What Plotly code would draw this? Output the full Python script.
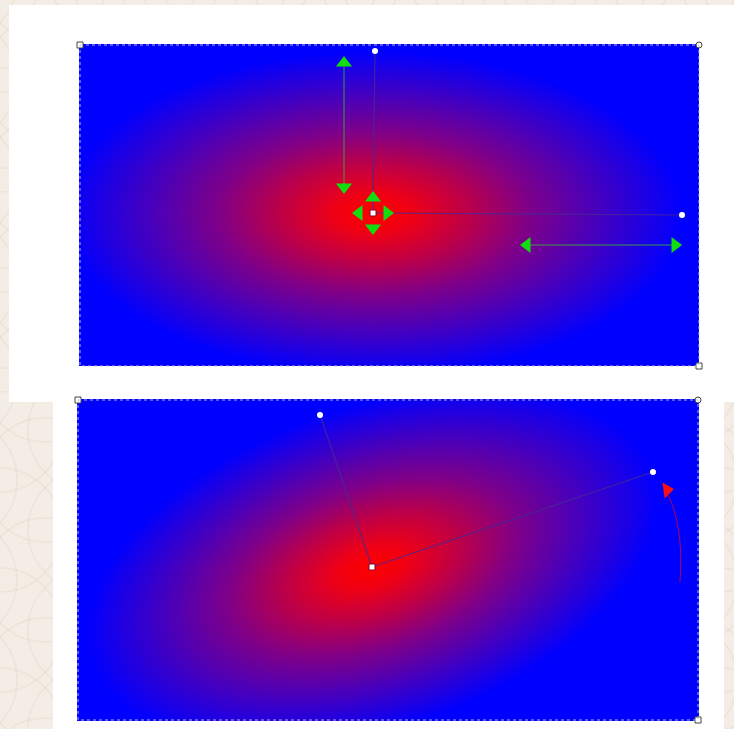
import numpy as np
import plotly.graph_objects as go

W, H = 734, 729

# Panels (white sheets behind the drawings): x0, y0, x1, y1
panels = [(9, 5, 734, 402), (53, 402, 724, 729)]

# Gradient rectangles: x0, y0, x1, y1
rects = [(80, 45, 699, 366), (78, 400, 698, 720)]

# Gradient centers and handles
centers = [(373, 213), (372, 567)]
handles_a = [(375, 51), (320, 415)]     # first radius handle
handles_b = [(682, 215), (653, 472)]    # second radius handle

# Green transform arrows (top drawing)
v_arrow = dict(x=344, y0=63, y1=187)
h_arrow = dict(y=245, x0=527, x1=675)

# Red rotate arrow (bottom drawing)
rot_start = (680, 582)
rot_ctrl = (684, 525)
rot_end = (667, 493)

STEP = 2

fig = go.Figure()

shapes = []
# faint scalloped background pattern
for j, yc in enumerate(range(-20, H + 80, 50)):
    off = 0 if j % 2 == 0 else 45
    for xc in range(-45 + off, W + 100, 90):
        shapes.append(dict(type="circle", xref="x", yref="y",
                           x0=xc - 62, x1=xc + 62, y0=yc - 62, y1=yc + 62,
                           line=dict(color="rgba(225,212,198,0.4)", width=1.5),
                           fillcolor="rgba(0,0,0,0)", layer="below"))

for (x0, y0, x1, y1) in panels:
    shapes.append(dict(type="rect", x0=x0, y0=y0, x1=x1, y1=y1, xref="x", yref="y",
                       fillcolor="white", line=dict(width=0), layer="below"))

colorscale = [[0, "rgb(255,0,0)"], [0.12, "rgb(240,0,20)"], [0.3, "rgb(190,0,70)"],
              [0.5, "rgb(128,0,135)"], [0.75, "rgb(64,0,195)"], [1, "rgb(0,0,255)"]]

for (rx0, ry0, rx1, ry1), c, ha, hb in zip(rects, centers, handles_a, handles_b):
    xs = np.arange(rx0, rx1 + 1, STEP)
    ys = np.arange(ry0, ry1 + 1, STEP)
    X, Y = np.meshgrid(xs, ys)
    ua = np.array(ha) - np.array(c)
    ub = np.array(hb) - np.array(c)
    M = np.array([[ua[0], ub[0]], [ua[1], ub[1]]], dtype=float)
    Minv = np.linalg.inv(M)
    dx = X - c[0]
    dy = Y - c[1]
    s = Minv[0, 0] * dx + Minv[0, 1] * dy
    t = Minv[1, 0] * dx + Minv[1, 1] * dy
    r = np.clip(np.sqrt(s ** 2 + t ** 2), 0, 1)
    fig.add_trace(go.Heatmap(x=xs, y=ys, z=np.round(r, 3), colorscale=colorscale,
                             zmin=0, zmax=1, showscale=False, zsmooth="best",
                             hoverinfo="skip"))
    shapes.append(dict(type="rect", x0=rx0, y0=ry0, x1=rx1, y1=ry1, xref="x", yref="y",
                       line=dict(color="rgba(200,200,210,0.9)", width=1, dash="dot"),
                       fillcolor="rgba(0,0,0,0)"))

# gradient guide lines
for c, ha, hb in zip(centers, handles_a, handles_b):
    for h in (ha, hb):
        fig.add_trace(go.Scatter(x=[c[0], h[0]], y=[c[1], h[1]], mode="lines",
                                 line=dict(color="rgba(70,40,150,0.8)", width=1.2),
                                 hoverinfo="skip", showlegend=False))

# green arrows
green = "#11dd11"
gline = "rgba(60,170,60,0.9)"
fig.add_trace(go.Scatter(x=[v_arrow["x"], v_arrow["x"]], y=[v_arrow["y0"], v_arrow["y1"]],
                         mode="lines", line=dict(color=gline, width=1), showlegend=False,
                         hoverinfo="skip"))
fig.add_trace(go.Scatter(x=[h_arrow["x0"], h_arrow["x1"]], y=[h_arrow["y"], h_arrow["y"]],
                         mode="lines", line=dict(color=gline, width=1), showlegend=False,
                         hoverinfo="skip"))
cx, cy = centers[0]
tri_x = [v_arrow["x"], v_arrow["x"], h_arrow["x0"], h_arrow["x1"], cx, cx, cx - 14, cx + 14]
tri_y = [v_arrow["y0"], v_arrow["y1"], h_arrow["y"], h_arrow["y"], cy - 15, cy + 15, cy, cy]
tri_sym = ["triangle-up", "triangle-down", "triangle-left", "triangle-right",
           "triangle-up", "triangle-down", "triangle-left", "triangle-right"]
fig.add_trace(go.Scatter(x=tri_x, y=tri_y, mode="markers",
                         marker=dict(symbol=tri_sym, size=14, color=green, line=dict(width=0)),
                         showlegend=False, hoverinfo="skip"))

# red rotate arrow
shapes.append(dict(type="path", xref="x", yref="y",
                   path=f"M {rot_start[0]} {rot_start[1]} Q {rot_ctrl[0]} {rot_ctrl[1]} {rot_end[0]} {rot_end[1]}",
                   line=dict(color="rgba(200,0,60,0.9)", width=1)))
fig.add_trace(go.Scatter(x=[rot_end[0]], y=[rot_end[1] - 3], mode="markers",
                         marker=dict(symbol="triangle-right", size=14, color="#ff1010",
                                     angle=-8, line=dict(width=0)),
                         showlegend=False, hoverinfo="skip"))

# white handle dots
hx = [h[0] for h in handles_a + handles_b]
hy = [h[1] for h in handles_a + handles_b]
fig.add_trace(go.Scatter(x=hx, y=hy, mode="markers",
                         marker=dict(symbol="circle", size=6, color="white", line=dict(width=0)),
                         showlegend=False, hoverinfo="skip"))
# center squares
fig.add_trace(go.Scatter(x=[c[0] for c in centers], y=[c[1] for c in centers], mode="markers",
                         marker=dict(symbol="square", size=6, color="white",
                                     line=dict(color="#800030", width=1)),
                         showlegend=False, hoverinfo="skip"))

# corner handles of rectangles
for (rx0, ry0, rx1, ry1) in rects:
    fig.add_trace(go.Scatter(x=[rx0, rx1], y=[ry0, ry1], mode="markers",
                             marker=dict(symbol="square", size=6, color="white",
                                         line=dict(color="#444", width=1)),
                             showlegend=False, hoverinfo="skip"))
    fig.add_trace(go.Scatter(x=[rx1], y=[ry0], mode="markers",
                             marker=dict(symbol="circle", size=6, color="white",
                                         line=dict(color="#444", width=1)),
                             showlegend=False, hoverinfo="skip"))

fig.update_layout(
    width=W, height=H,
    margin=dict(l=0, r=0, t=0, b=0),
    paper_bgcolor="#f4ede6", plot_bgcolor="#f4ede6",
    xaxis=dict(range=[0, W], visible=False, fixedrange=True),
    yaxis=dict(range=[H, 0], visible=False, fixedrange=True),
    shapes=shapes,
    showlegend=False,
)

fig.write_html("out.html", config={"displayModeBar": False},
               post_script="document.body.style.margin='0';document.body.style.overflow='hidden';")
